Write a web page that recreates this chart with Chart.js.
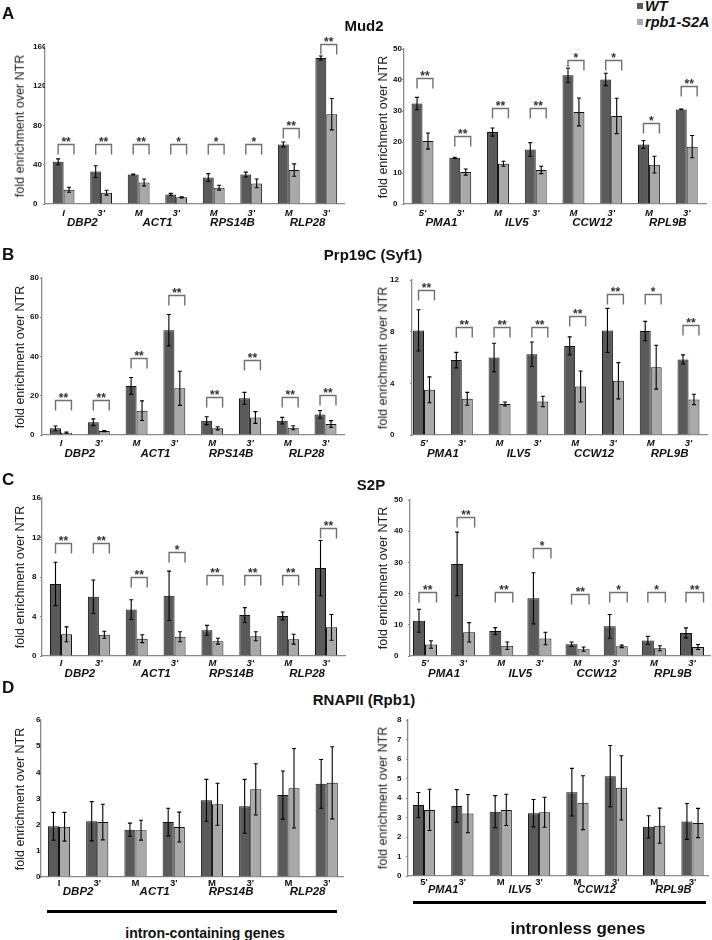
<!DOCTYPE html>
<html><head><meta charset="utf-8">
<script src="https://cdn.jsdelivr.net/npm/chart.js@4.4.1/dist/chart.umd.min.js"></script>
<style>
html,body{margin:0;padding:0;background:#fff;}
body{width:712px;height:940px;position:relative;overflow:hidden;font-family:"Liberation Sans",Arial,sans-serif;}
canvas{position:absolute;}
.t{position:absolute;white-space:nowrap;color:#111;line-height:1;}
.letter{font-weight:bold;font-size:17px;transform:translate(0,-50%);}
.title{font-weight:bold;font-size:15px;transform:translate(-50%,-50%);}
.ytitle{font-size:12.5px;transform:translate(-50%,-50%) rotate(-90deg);color:#222;}
.leg{font-weight:bold;font-style:italic;font-size:14.5px;transform:translate(0,-50%);}
.sq{position:absolute;width:6px;height:6px;}
.hbar{position:absolute;background:#000;}
.grp{font-weight:bold;transform:translate(-50%,-50%);}
</style></head><body>
<script>
// ---------- DATA ----------
const subIntron = ["I","3'","M","3'","M","3'","M","3'"];
const subIntronless = ["5'","3'","M","3'","M","3'","M","3'"];
const genesIntron = ["DBP2","ACT1","RPS14B","RLP28"];
const genesIntronless = ["PMA1","ILV5","CCW12","RPL9B"];
const seriesNames = ["WT","rpb1-S2A"];

// A: Mud2
const mud2IntronTicks = [0,40,80,120,160];
const mud2IntronWT = [43, 33, 30, 9.8, 27, 30, 60.7, 148.8];
const mud2IntronWTErr = [3, 6, 0.5, 1, 4, 2.5, 2.5, 2];
const mud2IntronS2A = [14.5, 11.5, 22, 6.8, 16.6, 21, 34.6, 91.5];
const mud2IntronS2AErr = [2.5, 2.5, 3.5, 0.6, 2.5, 4.5, 6.3, 16];
const mud2IntronSig = ["**","**","**","*","*","*","**","**"];
const mud2IntronBracket = [61, 61, 61, 61, 61, 61, 77, 163.4];

const mud2IntronlessTicks = [0,10,20,30,40,50];
const mud2IntronlessWT = [32.4, 14.9, 23.2, 17.6, 41.5, 40.2, 19.2, 30.5];
const mud2IntronlessWTErr = [2, 0.2, 1.3, 2.2, 2.3, 2, 1.3, 0.1];
const mud2IntronlessS2A = [20.3, 10.3, 13, 11, 29.7, 28.4, 12.7, 18.5];
const mud2IntronlessS2AErr = [2.6, 1, 0.8, 1.2, 4.5, 5.7, 2.7, 3.6];
const mud2IntronlessSig = ["**","**","**","**","*","*","*","**"];
const mud2IntronlessBracket = [40.6, 22, 31, 31, 46.4, 46.4, 26, 38];

// B: Prp19C (Syf1)
const prpIntronTicks = [0,20,40,60,80];
const prpIntronWT = [3.4, 6.5, 25, 53.4, 7.3, 18.7, 7.3, 10.5];
const prpIntronWTErr = [1.2, 1.7, 4.3, 8, 2, 3, 1.7, 2];
const prpIntronS2A = [1.2, 2, 12.4, 23.8, 3.4, 8.9, 3.7, 5.6];
const prpIntronS2AErr = [0.3, 0.3, 5, 8.7, 0.8, 3, 1, 1.7];
const prpIntronSig = ["**","**","**","**","**","**","**","**"];
const prpIntronBracket = [17.9, 17.9, 39, 71.5, 19.6, 38.3, 19.6, 20.4];

const prpIntronlessTicks = [0,4,8,12];
const prpIntronlessWT = [8.1, 5.8, 6.0, 6.25, 6.9, 8.1, 8.05, 5.85];
const prpIntronlessWTErr = [1.6, 0.6, 1.1, 0.95, 0.7, 1.7, 0.75, 0.35];
const prpIntronlessS2A = [3.5, 2.8, 2.4, 2.6, 3.75, 4.2, 5.25, 2.75];
const prpIntronlessS2AErr = [1, 0.5, 0.15, 0.4, 1.2, 1.4, 1.7, 0.4];
const prpIntronlessSig = ["**","**","**","**","**","**","*","**"];
const prpIntronlessBracket = [11.2, 8.4, 8.4, 8.4, 9.2, 10.9, 10.9, 8.5];

// C: S2P
const s2pIntronTicks = [0,4,8,12,16];
const s2pIntronWT = [7.3, 6.0, 4.7, 6.1, 2.6, 4.15, 4.05, 8.9];
const s2pIntronWTErr = [2.2, 1.7, 1, 2.5, 0.5, 0.75, 0.4, 2.8];
const s2pIntronS2A = [2.2, 2.15, 1.75, 1.95, 1.5, 2.0, 1.7, 2.9];
const s2pIntronS2AErr = [0.75, 0.35, 0.4, 0.5, 0.3, 0.45, 0.5, 1.3];
const s2pIntronSig = ["**","**","**","*","**","**","**","**"];
const s2pIntronBracket = [11.4, 11.4, 8.0, 10.5, 8.2, 8.2, 8.2, 13.0];

const s2pIntronlessTicks = [0,10,20,30,40,50];
const s2pIntronlessWT = [11.3, 29.5, 8.0, 18.5, 3.8, 9.5, 5.0, 7.4];
const s2pIntronlessWTErr = [3.7, 10.2, 1.1, 8.2, 0.7, 3.8, 1.3, 1.6];
const s2pIntronlessS2A = [3.7, 7.6, 3.3, 5.6, 2.2, 3.1, 2.5, 2.9];
const s2pIntronlessS2AErr = [1.2, 3.1, 1.2, 2, 0.7, 0.4, 0.8, 0.8];
const s2pIntronlessSig = ["**","**","**","*","**","*","*","**"];
const s2pIntronlessBracket = [20.6, 44.7, 20.6, 34.5, 20, 20.6, 20.6, 20.6];

// D: RNAPII (Rpb1)
const rpbIntronTicks = [0,1,2,3,4,5,6];
const rpbIntronWT = [1.94, 2.13, 1.81, 2.1, 2.93, 2.7, 3.13, 3.56];
const rpbIntronWTErr = [0.53, 0.75, 0.25, 0.53, 0.8, 1.03, 0.92, 0.93];
const rpbIntronS2A = [1.92, 2.1, 1.79, 1.91, 2.78, 3.35, 3.39, 3.6];
const rpbIntronS2AErr = [0.55, 0.68, 0.38, 0.57, 0.8, 0.98, 1.52, 1.38];

const rpbIntronlessTicks = [0,1,2,3,4,5,6,7,8];
const rpbIntronlessWT = [3.64, 3.59, 3.3, 3.22, 4.3, 5.12, 2.52, 2.8];
const rpbIntronlessWTErr = [0.64, 0.84, 0.82, 0.7, 1.22, 1.57, 0.57, 0.92];
const rpbIntronlessS2A = [3.39, 3.2, 3.39, 3.27, 3.76, 4.52, 2.58, 2.72];
const rpbIntronlessS2AErr = [1.06, 0.98, 0.8, 0.77, 1.38, 1.65, 0.9, 0.75];

const panelTitles = ["Mud2","Prp19C (Syf1)","S2P","RNAPII (Rpb1)"];
const panelLetters = ["A","B","C","D"];
const yTitle = "fold enrichment over NTR";
const groupLabels = ["intron-containing genes","intronless genes"];

// ---------- STYLE / LAYOUT ----------
const WT_COLOR = '#5a5a5a', S2A_COLOR = '#a9a9a9', AXIS = '#8a8a8a';
const FONT = '"Liberation Sans", Arial, sans-serif';

function addText(cls, txt, x, y, extra) {
  const d = document.createElement('div');
  d.className = 't ' + cls; d.textContent = txt;
  d.style.left = x + 'px'; d.style.top = y + 'px';
  if (extra) Object.assign(d.style, extra);
  document.body.appendChild(d);
}

const annot = {
  id: 'annot',
  afterDatasetsDraw(chart) {
    const o = chart.options.plugins.annot;
    const ctx = chart.ctx, ys = chart.scales.y, xs = chart.scales.x;
    const m0 = chart.getDatasetMeta(0), m1 = chart.getDatasetMeta(1);
    ctx.save();
    // error bars
    chart.data.datasets.forEach((ds, di) => {
      const meta = chart.getDatasetMeta(di);
      meta.data.forEach((bar, i) => {
        const v = ds.data[i].y, e = ds.err[i];
        if (!e) return;
        const yt = ys.getPixelForValue(v + e), yb = ys.getPixelForValue(v - e);
        ctx.strokeStyle = '#000'; ctx.lineWidth = 1.1;
        ctx.beginPath();
        ctx.moveTo(bar.x, yt); ctx.lineTo(bar.x, yb);
        ctx.moveTo(bar.x - 2, yt); ctx.lineTo(bar.x + 2, yt);
        ctx.moveTo(bar.x - 2, yb); ctx.lineTo(bar.x + 2, yb);
        ctx.stroke();
      });
    });
    // significance brackets
    if (o.sig) {
      o.sig.forEach((s, i) => {
        const a = m0.data[i], b = m1.data[i];
        const xl = a.x, xr = b.x + b.width / 2 - 0.5;
        const yb = Math.round(ys.getPixelForValue(o.bracket[i])) + 0.5;
        ctx.strokeStyle = '#707070'; ctx.lineWidth = 1.4;
        ctx.beginPath();
        ctx.moveTo(xl, yb + 10); ctx.lineTo(xl, yb); ctx.lineTo(xr, yb); ctx.lineTo(xr, yb + 10);
        ctx.stroke();
        ctx.fillStyle = '#333'; ctx.font = 'bold 12px ' + FONT;
        ctx.textAlign = 'center'; ctx.textBaseline = 'alphabetic';
        ctx.fillText(s, (xl + xr) / 2, yb + 1);
      });
    }
    // gene names
    ctx.fillStyle = '#111'; ctx.font = 'italic bold ' + o.geneSize + 'px ' + FONT;
    ctx.textAlign = 'center'; ctx.textBaseline = 'middle';
    o.genes.forEach((g, k) => {
      ctx.fillText(g, xs.getPixelForValue(2 * k + 0.5), chart.chartArea.bottom + o.geneDy);
    });
    ctx.restore();
  }
};

function makeChart(L, D) {
  const cv = document.createElement('canvas');
  cv.width = L.cw; cv.height = L.ch;
  Object.assign(cv.style, {left: L.cx + 'px', top: L.cy + 'px', width: L.cw + 'px', height: L.ch + 'px'});
  document.body.appendChild(cv);
  const s = (L.c7 - L.c0) / 7;
  const xmin = -(L.c0 - L.x0) / s, xmax = 7 + (L.x1 - L.c7) / s;
  const subFont = L.subItalic ? {size: L.subSize, weight: 'bold', style: 'italic', family: FONT}
                              : {size: L.subSize, weight: 'bold', family: FONT};
  new Chart(cv, {
    type: 'bar',
    data: { datasets: [
      {label: seriesNames[0], data: D.wt.map((v, i) => ({x: i, y: v})), err: D.wtErr,
       backgroundColor: WT_COLOR, borderColor: '#111', borderWidth: 1},
      {label: seriesNames[1], data: D.s2a.map((v, i) => ({x: i, y: v})), err: D.s2aErr,
       backgroundColor: S2A_COLOR, borderColor: '#111', borderWidth: 1}
    ]},
    options: {
      responsive: false, animation: false, devicePixelRatio: 1,
      categoryPercentage: L.barFrac, barPercentage: 1,
      layout: {padding: {left: L.labelX - L.cx, top: L.top - L.cy, right: L.cx + L.cw - L.x1, bottom: 0}},
      plugins: {legend: {display: false}, tooltip: {enabled: false},
        annot: {sig: D.sig, bracket: D.bracket, genes: D.genes, geneDy: L.geneDy, geneSize: L.geneSize}},
      scales: {
        x: {type: 'linear', min: xmin, max: xmax, offset: false,
            grid: {display: false, drawTicks: false},
            border: {display: true, color: AXIS, width: 1.3},
            afterBuildTicks: sc => { sc.ticks = D.sub.map((l, i) => ({value: i})); },
            ticks: {autoSkip: false, maxRotation: 0, minRotation: 0, padding: L.subPad,
                    font: subFont, color: '#111', callback: v => D.sub[v]},
            afterFit: sc => { sc.height = L.cy + L.ch - L.bottom; }},
        y: {type: 'linear', min: 0, max: D.ticks[D.ticks.length - 1],
            afterBuildTicks: sc => { sc.ticks = D.ticks.map(v => ({value: v})); },
            grid: {drawOnChartArea: false, drawTicks: true, tickLength: 2, color: AXIS},
            border: {display: true, color: AXIS, width: 1.3},
            ticks: {crossAlign: 'far', padding: 1, font: {size: 8, weight: 'bold', family: FONT}, color: '#111'},
            afterFit: sc => { sc.width = L.x0 - L.labelX; }}
      }
    },
    plugins: [annot]
  });
  addText('ytitle', yTitle, L.x0 < 200 ? 19.5 : 383, (L.top + L.bottom) / 2);
}

const base = {barFrac: 0.58, subItalic: true, subSize: 9.5, geneSize: 11.5};
const charts = [
  [{cx: 0, cy: 30, cw: 356, ch: 205, x0: 45, x1: 344, top: 47, bottom: 204, c0: 63.6, c7: 326.3, labelX: 33, subPad: 3.3, geneDy: 18.5},
   {wt: mud2IntronWT, wtErr: mud2IntronWTErr, s2a: mud2IntronS2A, s2aErr: mud2IntronS2AErr, sig: mud2IntronSig, bracket: mud2IntronBracket, ticks: mud2IntronTicks, sub: subIntron, genes: genesIntron}],
  [{cx: 356, cy: 30, cw: 356, ch: 205, x0: 404, x1: 706, top: 49, bottom: 204, c0: 422.5, c7: 686.7, labelX: 393, subPad: 3.3, geneDy: 18.5},
   {wt: mud2IntronlessWT, wtErr: mud2IntronlessWTErr, s2a: mud2IntronlessS2A, s2aErr: mud2IntronlessS2AErr, sig: mud2IntronlessSig, bracket: mud2IntronlessBracket, ticks: mud2IntronlessTicks, sub: subIntronless, genes: genesIntronless}],
  [{cx: 0, cy: 262, cw: 356, ch: 205, x0: 42, x1: 344, top: 278, bottom: 435, c0: 61, c7: 325.5, labelX: 30, subPad: 3, geneDy: 19},
   {wt: prpIntronWT, wtErr: prpIntronWTErr, s2a: prpIntronS2A, s2aErr: prpIntronS2AErr, sig: prpIntronSig, bracket: prpIntronBracket, ticks: prpIntronTicks, sub: subIntron, genes: genesIntron}],
  [{cx: 356, cy: 262, cw: 356, ch: 205, x0: 412, x1: 707, top: 280, bottom: 435, c0: 424, c7: 688.5, labelX: 390, subPad: 3, geneDy: 19},
   {wt: prpIntronlessWT, wtErr: prpIntronlessWTErr, s2a: prpIntronlessS2A, s2aErr: prpIntronlessS2AErr, sig: prpIntronlessSig, bracket: prpIntronlessBracket, ticks: prpIntronlessTicks, sub: subIntronless, genes: genesIntronless}],
  [{cx: 0, cy: 488, cw: 356, ch: 200, x0: 42, x1: 345, top: 498, bottom: 656, c0: 61, c7: 326, labelX: 32, subPad: 1.3, geneDy: 17.7},
   {wt: s2pIntronWT, wtErr: s2pIntronWTErr, s2a: s2pIntronS2A, s2aErr: s2pIntronS2AErr, sig: s2pIntronSig, bracket: s2pIntronBracket, ticks: s2pIntronTicks, sub: subIntron, genes: genesIntron}],
  [{cx: 356, cy: 488, cw: 356, ch: 200, x0: 410, x1: 710, top: 500, bottom: 656, c0: 425, c7: 692, labelX: 394, subPad: 1.3, geneDy: 17.7, barFrac: 0.63},
   {wt: s2pIntronlessWT, wtErr: s2pIntronlessWTErr, s2a: s2pIntronlessS2A, s2aErr: s2pIntronlessS2AErr, sig: s2pIntronlessSig, bracket: s2pIntronlessBracket, ticks: s2pIntronlessTicks, sub: subIntronless, genes: genesIntronless}],
  [{cx: 0, cy: 708, cw: 356, ch: 195, x0: 41, x1: 343, top: 720, bottom: 877, c0: 59, c7: 326.7, labelX: 36, subPad: 0.5, geneDy: 15, subItalic: false, subSize: 9.5, geneSize: 11.5},
   {wt: rpbIntronWT, wtErr: rpbIntronWTErr, s2a: rpbIntronS2A, s2aErr: rpbIntronS2AErr, ticks: rpbIntronTicks, sub: subIntron, genes: genesIntron}],
  [{cx: 356, cy: 708, cw: 356, ch: 195, x0: 408, x1: 708, top: 720, bottom: 876, c0: 424, c7: 692.5, labelX: 397, subPad: 0.5, geneDy: 13.5, subItalic: false, subSize: 9.5, geneSize: 11},
   {wt: rpbIntronlessWT, wtErr: rpbIntronlessWTErr, s2a: rpbIntronlessS2A, s2aErr: rpbIntronlessS2AErr, ticks: rpbIntronlessTicks, sub: subIntronless, genes: genesIntronless}]
];
charts.forEach(([L, D]) => makeChart(Object.assign({}, base, L), D));

// panel letters & titles
[[2, 12.5], [2, 254], [2, 479], [2, 687]].forEach(([x, y], i) => addText('letter', panelLetters[i], x, y));
[[364, 25], [373, 254], [371, 484], [364, 699]].forEach(([x, y], i) => addText('title', panelTitles[i], x, y));

// legend
[[WT_COLOR, 3], [S2A_COLOR, 19]].forEach(([c, y]) => {
  const d = document.createElement('div'); d.className = 'sq';
  Object.assign(d.style, {left: '637px', top: y + 'px', background: c});
  document.body.appendChild(d);
});
addText('leg', seriesNames[0], 645, 6);
addText('leg', seriesNames[1], 645, 22);

// gene group bars & labels
[[47, 909.5, 290, 3], [413, 900.5, 293, 3.5]].forEach(([x, y, w, h]) => {
  const d = document.createElement('div'); d.className = 'hbar';
  Object.assign(d.style, {left: x + 'px', top: y + 'px', width: w + 'px', height: h + 'px'});
  document.body.appendChild(d);
});
addText('grp', groupLabels[0], 205, 933, {fontSize: '14px'});
addText('grp', groupLabels[1], 578, 928, {fontSize: '17px'});
</script>
</body></html>
